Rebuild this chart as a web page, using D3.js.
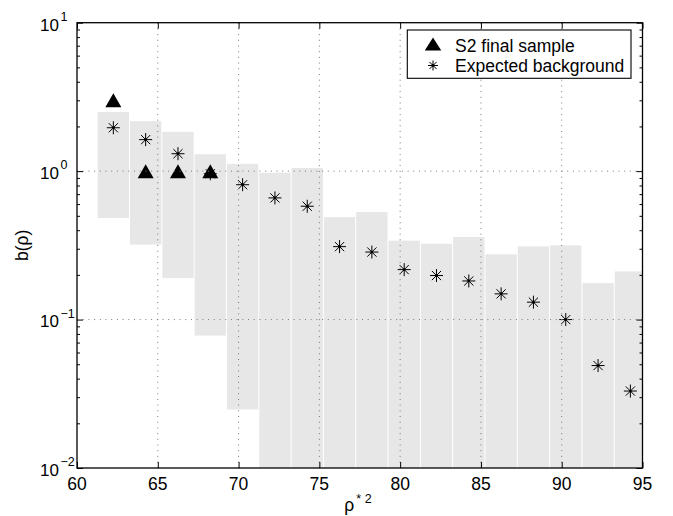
<!DOCTYPE html>
<html>
<head>
<meta charset="utf-8">
<script src="https://d3js.org/d3.v7.min.js"></script>
<style>
  body { margin: 0; background: #fff; }
  text { font-family: "Liberation Sans", Arial, Helvetica, sans-serif; fill: #000; }
</style>
</head>
<body>
<script>
// bin centres (rho*^2) and values
var rho = [62.25, 64.25, 66.25, 68.25, 70.25, 72.25, 74.25, 76.25, 78.25,
           80.25, 82.25, 84.25, 86.25, 88.25, 90.25, 92.25, 94.25]
var background = [1.96, 1.63, 1.31, 0.96, 0.81, 0.66, 0.58, 0.31, 0.285,
                  0.217, 0.198, 0.182, 0.149, 0.131, 0.100, 0.049, 0.033]
var bandHigh = [2.5, 2.17, 1.84, 1.30, 1.12, 0.975, 1.05, 0.49, 0.53,
                0.34, 0.324, 0.36, 0.275, 0.311, 0.316, 0.176, 0.211]
var bandLow = [0.483, 0.32, 0.19, 0.078, 0.0248, 0.001, 0.001, 0.001, 0.001,
               0.001, 0.001, 0.001, 0.001, 0.001, 0.001, 0.001, 0.001]
var sampleRho = [62.25, 64.25, 66.25, 68.25]
var sampleValues = [3, 1, 1, 1]

var xTicks = [60, 65, 70, 75, 80, 85, 90, 95]
var yTicks = [0.01, 0.1, 1, 10]
var yExponents = ["\u22122", "\u22121", "0", "1"]
var legendLabels = ["S2 final sample", "Expected background"]

var W = 673, H = 516
// note: "top" is a reserved window property, so use plot* names
var plotL = 77, plotR = 642.5, plotT = 22.7, plotB = 468

var svg = d3.select("body").append("svg")
  .attr("width", W)
  .attr("height", H)

var x = d3.scaleLinear().domain([60, 95]).range([plotL, plotR])
var y = d3.scaleLog().domain([0.01, 10]).range([plotB, plotT]).clamp(true)

svg.append("clipPath").attr("id", "plot")
  .append("rect")
    .attr("x", plotL).attr("y", plotT)
    .attr("width", plotR - plotL).attr("height", plotB - plotT)

var plot = svg.append("g").attr("clip-path", "url(#plot)")

// uncertainty bands
plot.selectAll("rect.band")
  .data(rho)
  .enter().append("rect")
    .attr("class", "band")
    .attr("x", function(d) { return x(d - 1) + 0.5 })
    .attr("width", function(d) { return x(d + 1) - x(d - 1) - 1 })
    .attr("y", function(d, i) { return y(bandHigh[i]) })
    .attr("height", function(d, i) { return y(bandLow[i]) - y(bandHigh[i]) })
    .attr("fill", "#e6e7e6")

// dotted grid, on top of the bands
var grid = svg.append("g")
  .attr("stroke", "#777")
  .attr("stroke-width", 1)
  .attr("stroke-dasharray", "1,4.7")

grid.selectAll("line.gx")
  .data(xTicks.slice(1, -1))
  .enter().append("line")
    .attr("x1", function(d) { return x(d) }).attr("x2", function(d) { return x(d) })
    .attr("y1", plotT).attr("y2", plotB)

grid.selectAll("line.gy")
  .data(yTicks.slice(1, -1))
  .enter().append("line")
    .attr("y1", function(d) { return y(d) }).attr("y2", function(d) { return y(d) })
    .attr("x1", plotL).attr("x2", plotR)

// asterisk marker
function asterisk(sel, r) {
  sel.append("path")
    .attr("d", function() {
      var a = r * 0.7071
      return "M" + (-r) + ",0H" + r + "M0," + (-r) + "V" + r +
        "M" + (-a) + "," + (-a) + "L" + a + "," + a +
        "M" + (-a) + "," + a + "L" + a + "," + (-a)
    })
    .attr("stroke", "#000")
    .attr("stroke-width", 1)
    .attr("fill", "none")
  sel.append("circle").attr("r", 1.4).attr("fill", "#000")
}

function triangle(sel, w, h) {
  sel.append("path")
    .attr("d", "M0," + (-h / 2) + "L" + (w / 2) + "," + (h / 2) + "L" + (-w / 2) + "," + (h / 2) + "Z")
    .attr("fill", "#000")
}

plot.selectAll("g.bkg")
  .data(rho)
  .enter().append("g")
    .attr("class", "bkg")
    .attr("transform", function(d, i) { return "translate(" + x(d) + "," + y(background[i]) + ")" })
    .call(asterisk, 6.5)

plot.selectAll("g.obs")
  .data(sampleRho)
  .enter().append("g")
    .attr("class", "obs")
    .attr("transform", function(d, i) { return "translate(" + x(d) + "," + y(sampleValues[i]) + ")" })
    .call(triangle, 16, 14)

// axes: ticks pointing inwards on all four sides
var minor = []
for (var e = -2; e < 1; e++) {
  [2, 3, 4, 5, 6, 7, 8, 9].forEach(function(m) { minor.push(m * Math.pow(10, e)) })
}

var axes = svg.append("g")

axes.append("g")
  .attr("transform", "translate(0," + plotB + ")")
  .call(d3.axisBottom(x).tickValues(xTicks).tickSize(-6).tickFormat(""))
axes.append("g")
  .attr("transform", "translate(0," + plotT + ")")
  .call(d3.axisTop(x).tickValues(xTicks).tickSize(-6).tickFormat(""))
axes.append("g")
  .attr("transform", "translate(" + plotL + ",0)")
  .call(d3.axisLeft(y).tickValues(yTicks).tickSize(-6).tickFormat(""))
axes.append("g")
  .attr("transform", "translate(" + plotL + ",0)")
  .call(d3.axisLeft(y).tickValues(minor).tickSize(-3).tickFormat(""))
axes.append("g")
  .attr("transform", "translate(" + plotR + ",0)")
  .call(d3.axisRight(y).tickValues(yTicks).tickSize(-6).tickFormat(""))
axes.append("g")
  .attr("transform", "translate(" + plotR + ",0)")
  .call(d3.axisRight(y).tickValues(minor).tickSize(-3).tickFormat(""))

axes.selectAll(".domain").remove()
axes.selectAll("line").attr("stroke", "#000").attr("stroke-width", 1)

svg.append("rect")
  .attr("x", plotL).attr("y", plotT)
  .attr("width", plotR - plotL).attr("height", plotB - plotT)
  .attr("fill", "none")
  .attr("stroke", "#000")
  .attr("stroke-width", 1.3)

// tick labels
svg.selectAll("text.xt")
  .data(xTicks)
  .enter().append("text")
    .attr("class", "xt")
    .attr("x", function(d) { return x(d) })
    .attr("y", 489.5)
    .attr("text-anchor", "middle")
    .style("font-size", "17.5px")
    .text(function(d) { return d })

var yl = svg.selectAll("text.yt")
  .data(yTicks)
  .enter().append("text")
    .attr("class", "yt")
    .attr("x", 40)
    .attr("y", function(d) { return y(d) + 7.8 })
    .style("font-size", "17px")

yl.append("tspan").text("10")
yl.append("tspan")
  .attr("dx", 1.5)
  .attr("dy", -9.5)
  .style("font-size", "12.5px")
  .text(function(d, i) { return yExponents[i] })

// axis titles
var xt = svg.append("text")
  .attr("x", 358)
  .attr("y", 511)
  .attr("text-anchor", "middle")
  .style("font-size", "17.5px")
xt.append("tspan").text("\u03c1")
xt.append("tspan").attr("dy", -8).attr("dx", 2).style("font-size", "12.5px").text("* 2")

svg.append("text")
  .attr("transform", "translate(28," + ((plotT + plotB) / 2) + ") rotate(-90)")
  .attr("text-anchor", "middle")
  .style("font-size", "17.5px")
  .text("b(\u03c1)")

// legend
var legend = svg.append("g")
legend.append("rect")
  .attr("x", 407.3).attr("y", 30)
  .attr("width", 223.7).attr("height", 48.3)
  .attr("fill", "#fff")
  .attr("stroke", "#000")
  .attr("stroke-width", 1.1)

var items = legend.selectAll("g.item")
  .data(legendLabels)
  .enter().append("g")
    .attr("class", "item")
    .attr("transform", function(d, i) { return "translate(0," + (45 + i * 20.5) + ")" })

items.append("text")
  .attr("x", 455)
  .attr("y", 6.5)
  .style("font-size", "17.5px")
  .text(function(d) { return d })

items.filter(function(d, i) { return i === 0 })
  .append("g").attr("transform", "translate(433,-1)")
  .call(triangle, 16.5, 13)
items.filter(function(d, i) { return i === 1 })
  .append("g").attr("transform", "translate(433,0)")
  .call(asterisk, 5)
</script>
</body>
</html>
